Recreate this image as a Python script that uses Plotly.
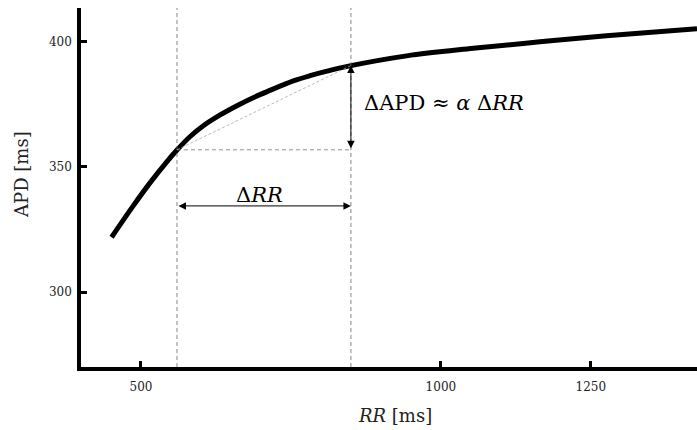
import plotly.graph_objects as go

# Curve data
rr = [451, 487, 515, 543, 560, 582, 604, 632, 660, 687, 712, 754, 782, 810, 846, 943, 1054, 1165, 1276, 1427]
apd = [321.9, 334.4, 343.6, 352.0, 356.7, 362.1, 366.4, 370.7, 374.4, 377.6, 380.2, 384.3, 386.4, 388.2, 390.2,
       394.3, 397.3, 399.9, 402.3, 405.1]

x_ticks = [500, 1000, 1250]
y_ticks = [300, 350, 400]

rr_a, rr_b = 560, 850
apd_a, apd_b = 356.8, 390.4
arrow_y = 334.4

SERIF = "DejaVu Serif"

fig = go.Figure()
fig.add_trace(go.Scatter(x=rr, y=apd, mode="lines",
                         line=dict(color="black", width=5, shape="spline", smoothing=1.0),
                         showlegend=False, hoverinfo="skip"))

shapes = [
    dict(type="line", xref="x", yref="paper", x0=rr_a, x1=rr_a, y0=0, y1=1,
         line=dict(color="#666", width=0.8, dash="4px,3px")),
    dict(type="line", xref="x", yref="paper", x0=rr_b, x1=rr_b, y0=0, y1=1,
         line=dict(color="#666", width=0.8, dash="4px,3px")),
    dict(type="line", xref="x", yref="y", x0=rr_a, x1=rr_b, y0=apd_a, y1=apd_a,
         line=dict(color="#777", width=0.8, dash="4px,3px")),
    dict(type="line", xref="x", yref="y", x0=rr_a, x1=rr_b, y0=apd_a, y1=apd_b,
         line=dict(color="#aaa", width=0.8, dash="3px,2px")),
]

annotations = [
    dict(x=rr_b, y=apd_b, ax=rr_b, ay=apd_a, xref="x", yref="y", axref="x", ayref="y",
         showarrow=True, arrowhead=2, startarrowhead=2, arrowside="end+start",
         arrowsize=1.5, startarrowsize=1.5, arrowwidth=1, arrowcolor="black",
         standoff=0, startstandoff=0, text=""),
    dict(x=rr_b, y=arrow_y, ax=rr_a, ay=arrow_y, xref="x", yref="y", axref="x", ayref="y",
         showarrow=True, arrowhead=2, startarrowhead=2, arrowside="end+start",
         arrowsize=1.5, startarrowsize=1.5, arrowwidth=1, arrowcolor="black",
         standoff=0, startstandoff=0, text=""),
    dict(x=698, y=338.8, xref="x", yref="y", showarrow=False,
         text="Δ<i>RR</i>", font=dict(family=SERIF, size=21, color="black"),
         xanchor="center", yanchor="middle"),
    dict(x=868, y=375.5, xref="x", yref="y", showarrow=False,
         text="ΔAPD ≈ <i>α</i> Δ<i>RR</i>", font=dict(family=SERIF, size=21, color="black"),
         xanchor="left", yanchor="middle"),
    dict(x=0.509, y=0, xref="paper", yref="paper", yshift=-48, showarrow=False,
         text="<i>RR</i> [ms]", font=dict(family=SERIF, size=18, color="#222"),
         xanchor="center", yanchor="middle"),
    dict(x=0, y=0.535, xref="paper", yref="paper", xshift=-59, showarrow=False,
         text="APD [ms]", textangle=-90, font=dict(family=SERIF, size=18, color="#222"),
         xanchor="center", yanchor="middle"),
]

fig.update_layout(
    width=697, height=430,
    margin=dict(l=81, r=0, t=8, b=63),
    paper_bgcolor="white", plot_bgcolor="white",
    shapes=shapes, annotations=annotations,
    xaxis=dict(range=[400, 1427], tickvals=x_ticks, ticktext=[str(v) for v in x_ticks],
               showgrid=False, zeroline=False, showline=True, linecolor="black", linewidth=3.5,
               ticks="inside", ticklen=6, tickwidth=3, tickcolor="black",
               ticklabelstandoff=6,
               tickfont=dict(family=SERIF, size=12, color="#222")),
    yaxis=dict(range=[270.1, 413.4], tickvals=y_ticks, ticktext=[str(v) for v in y_ticks],
               showgrid=False, zeroline=False, showline=True, linecolor="black", linewidth=3.5,
               ticks="inside", ticklen=6, tickwidth=3, tickcolor="black",
               ticklabelstandoff=3,
               tickfont=dict(family=SERIF, size=12, color="#222")),
)

fig.write_html("out.html")
